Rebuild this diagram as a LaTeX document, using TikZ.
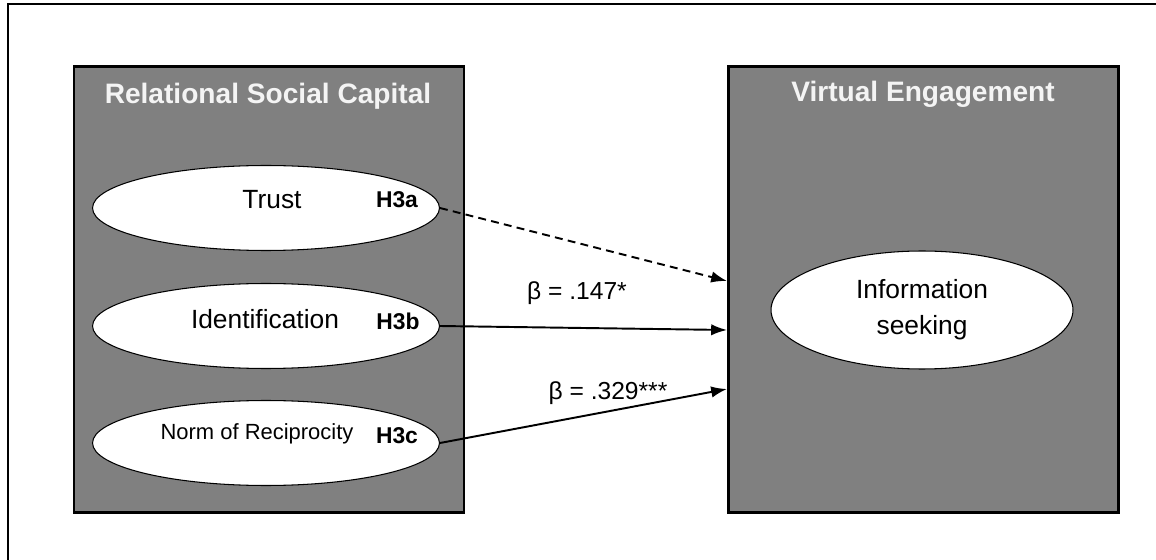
\documentclass[tikz,border=0pt]{standalone}
\usepackage{fontspec}
\setmainfont{Liberation Sans}
\usetikzlibrary{shapes.geometric,arrows.meta,positioning}
\definecolor{boxgray}{RGB}{128,128,128}
\definecolor{titlewhite}{RGB}{244,244,244}

\begin{document}
\begin{tikzpicture}[x=0.02cm, y=-0.02cm,
        panel/.style={rectangle, draw, line width=1.2pt, fill=boxgray, minimum width=7.8cm, minimum height=8.92cm, inner sep=0pt},
        construct/.style={ellipse, draw, line width=0.6pt, fill=white, inner sep=0pt},
        paneltitle/.style={font=\bfseries\fontsize{16}{19}\selectfont, text=titlewhite},
        ctext/.style={font=\fontsize{15}{18}\selectfont, align=center},
        hyp/.style={font=\bfseries\fontsize{13}{15}\selectfont},
        path/.style={line width=1.1pt, -{Latex[length=9pt,width=6.5pt]}},
        coef/.style={font=\fontsize{14}{16}\selectfont}]
    \useasboundingbox (0,0) rectangle (1156,560);
    % outer frame (runs off the page on the right and bottom)
    \draw[line width=1.1pt] (8,560) |- (1156,4);

    % the two panels
    \node[panel] (rsc) at (269,289.5) {};
    \node[panel] (ve) at (923.5,289.5) {};
    \node[paneltitle] (rsctitle) at (268,96) {Relational Social Capital};
    \node[paneltitle] (vetitle) at (923,94) {Virtual Engagement};

    % constructs
    \node[construct, minimum width=6.94cm, minimum height=1.7cm] (trust) at (266,208) {};
    \node[construct, minimum width=6.94cm, minimum height=1.7cm] (ident) at (266,326) {};
    \node[construct, minimum width=6.94cm, minimum height=1.7cm] (norm) at (266,443) {};
    \node[construct, minimum width=6.04cm, minimum height=2.36cm] (info) at (922,310) {};

    \node[ctext] (trusttext) at (272,200) {Trust};
    \node[ctext] (identtext) at (265,319) {Identification};
    \node[ctext, font=\fontsize{12.5}{15}\selectfont] (normtext) at (257,434) {Norm of Reciprocity};
    \node[ctext, font=\fontsize{15}{20.5}\selectfont] (infotext) at (922,310) {Information\\seeking};
    \node[hyp] (h3a) at (397,200) {H3a};
    \node[hyp] (h3b) at (398,321) {H3b};
    \node[hyp] (h3c) at (397,436) {H3c};

    % hypothesised paths
    \coordinate (ina) at (727,281);
    \coordinate (inb) at (727,330);
    \coordinate (inc) at (727,389);
    \draw[path, dashed, dash pattern=on 4.5pt off 3pt] (trust.east) -- (ina);
    \draw[path] (ident.east) -- (inb);
    \draw[path] (norm.east) -- (inc);

    \node[coef] (betab) at (577,293) {β = .147*};
    \node[coef] (betac) at (608,393) {β = .329***};
\end{tikzpicture}
\end{document}
